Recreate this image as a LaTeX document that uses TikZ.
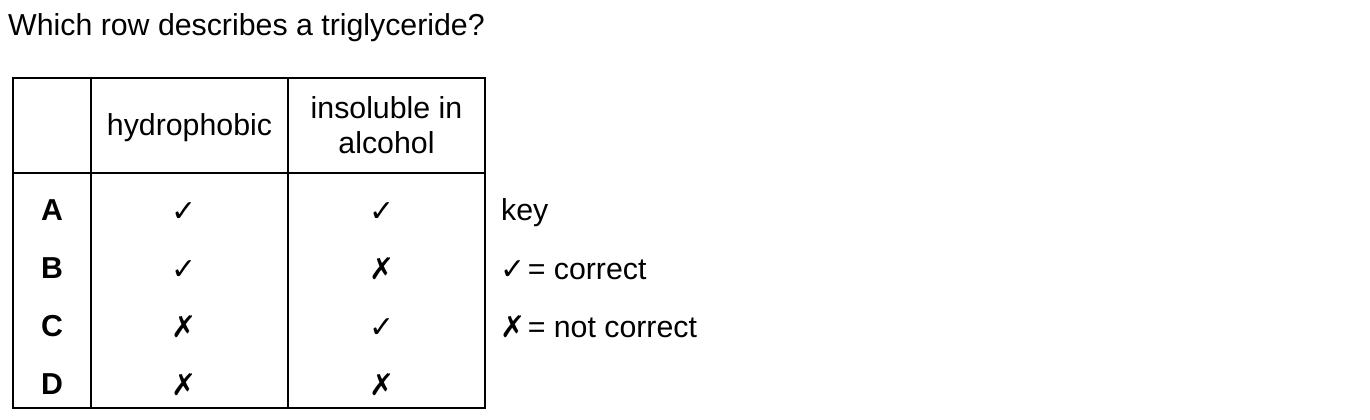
\documentclass[tikz,border=0pt]{standalone}
\usepackage{fontspec}
\setmainfont{Liberation Sans}
\newfontfamily\symfont{DejaVu Sans}
\tikzset{
  txt/.style={inner sep=0pt, font=\fontsize{30.3}{36}\selectfont},
  lbl/.style={txt, font=\fontsize{30.3}{36}\selectfont\bfseries},
  sym/.style={inner sep=0pt, font=\fontsize{30}{36}\symfont},
  rule/.style={line width=2pt}
}
\newcommand{\yes}{✓}
\newcommand{\no}{✗}
\begin{document}
\begin{tikzpicture}[x=1pt,y=-1pt]
\useasboundingbox (0,0) rectangle (1370,420);
\node[txt, anchor=base west] (title) at (8,36) {Which row describes a triglyceride?};
% table frame
\coordinate (tl) at (13,78);
\coordinate (br) at (485,408);
\draw[rule] (tl) rectangle (br);
\coordinate (c1t) at (91,78);
\coordinate (c1b) at (91,408);
\coordinate (c2t) at (288,78);
\coordinate (c2b) at (288,408);
\coordinate (hl) at (13,173);
\coordinate (hr) at (485,173);
\draw[rule] (c1t) -- (c1b);
\draw[rule] (c2t) -- (c2b);
\draw[rule] (hl) -- (hr);
% headers
\node[txt, anchor=base] (h1) at (189.5,135) {hydrophobic};
\node[txt, anchor=base] (h2a) at (386.5,118) {insoluble in};
\node[txt, anchor=base] (h2b) at (386.5,153) {alcohol};
% rows
\node[lbl, anchor=base] (rA) at (52,220) {A};
\node[lbl, anchor=base] (rB) at (52,278) {B};
\node[lbl, anchor=base] (rC) at (52,336) {C};
\node[lbl, anchor=base] (rD) at (52,394) {D};
\node[sym, anchor=base] (a1) at (184,221) {\yes};
\node[sym, anchor=base] (a2) at (382,221) {\yes};
\node[sym, anchor=base] (b1) at (184,279) {\yes};
\node[sym, anchor=base] (b2) at (382,279) {\no};
\node[sym, anchor=base] (c1) at (184,337) {\no};
\node[sym, anchor=base] (c2) at (382,337) {\yes};
\node[sym, anchor=base] (d1) at (184,395) {\no};
\node[sym, anchor=base] (d2) at (382,395) {\no};
% key
\node[txt, anchor=base west] (key) at (501,220) {key};
\node[txt, anchor=base west] (k1) at (500,279) {{\symfont\fontsize{30}{36}\selectfont\yes}\hspace{-6pt} = correct};
\node[txt, anchor=base west] (k2) at (500,337) {{\symfont\fontsize{30}{36}\selectfont\no}\hspace{-6pt} = not correct};
\end{tikzpicture}
\end{document}
